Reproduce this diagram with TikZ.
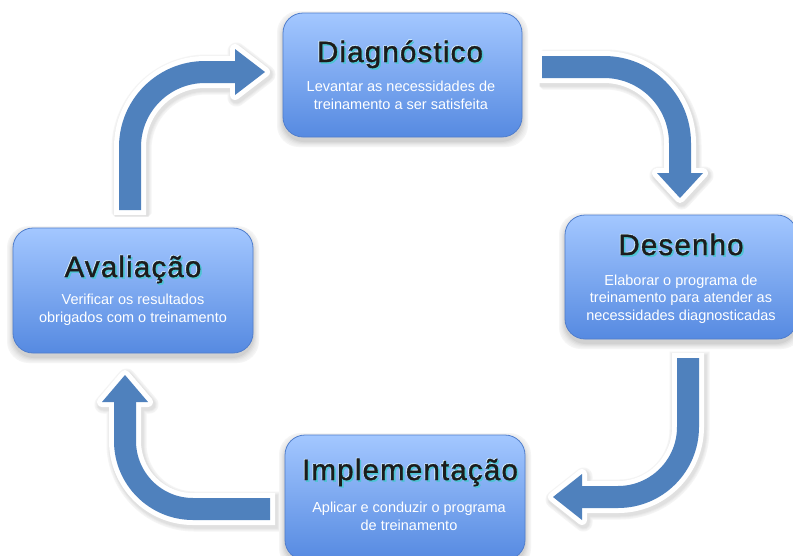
\documentclass[tikz,border=0pt]{standalone}
\usepackage{fontspec}
\setmainfont{Liberation Sans}
\newfontfamily\titlefont[FakeBold=1.2,LetterSpace=4]{Liberation Sans}
\definecolor{arrowblue}{RGB}{79,129,189}
\definecolor{boxtop}{RGB}{163,199,255}
\definecolor{boxbot}{RGB}{86,138,225}
\definecolor{boxline}{RGB}{80,126,205}
\definecolor{glowcyan}{RGB}{78,196,212}
\definecolor{titledark}{RGB}{28,28,28}
\tikzset{
  box/.style={rounded corners=20pt, top color=boxtop, bottom color=boxbot, draw=boxline, line width=0.8pt, inner sep=0pt},
  sub/.style={text=white, font=\fontsize{14.5}{17.5}\selectfont, align=center, anchor=base, inner sep=0pt},
  ttl/.style={font=\titlefont\fontsize{29.5}{31}\selectfont, anchor=base, text=titledark, inner sep=0pt},
  ttlglow/.style={ttl, text=glowcyan},
  ttlhalo/.style={ttl, text=white!85!cyan},
  halo/.style={draw=white, line width=32pt},
  shaft/.style={draw=arrowblue, line width=22pt},
  headhalo/.style={fill=white, draw=white, line width=10pt, line join=round},
  headfill/.style={fill=arrowblue},
}
% arrow paths (argument: extra length of the tail)
\newcommand\myApath[1]{(130,-210-#1) -- (130,-147) arc[start angle=180,end angle=90,radius=75] -- (236,-72)}
\newcommand\myAhead{(235,-49) -- (265,-72) -- (235,-95) -- cycle}
\newcommand\myBpath[1]{(542-#1,-67) -- (604,-67) arc[start angle=90,end angle=0,radius=76] -- (680,-174)}
\newcommand\myBhead{(657,-173) -- (680,-198) -- (703,-173) -- cycle}
\newcommand\myCpath[1]{(688,-358+#1) -- (688,-427) arc[start angle=0,end angle=-90,radius=70] -- (581,-497)}
\newcommand\myChead{(582,-474) -- (553,-497) -- (582,-520) -- cycle}
\newcommand\myDpath[1]{(270+#1,-509) -- (193,-509) arc[start angle=270,end angle=180,radius=68] -- (125,-401)}
\newcommand\myDhead{(102,-402) -- (125,-375) -- (148,-402) -- cycle}
\newcommand\myboxshadow[4]{%
  \foreach \s/\c in {6/4,5/6,4/8,3/11,2/14,1/18}{%
    \fill[black!\c, rounded corners=22pt] (#1-\s,#4-4-\s) rectangle (#3+\s,#2-4+\s);}}
\begin{document}
\begin{tikzpicture}[x=1pt,y=1pt]
\useasboundingbox (0,0) rectangle (793,-555);
\clip (0,0) rectangle (793,-555);
\fill[white] (0,0) rectangle (793,-555);

% arrow shadows
\begin{scope}[shift={(1.5,-2.5)}]
  \foreach \s/\c in {4/4,3/6,2/9,1/12}{%
    \draw[black!\c, line width=32pt+2pt*\s] \myApath{5+\s};
    \draw[black!\c, line width=32pt+2pt*\s] \myBpath{5+\s};
    \draw[black!\c, line width=32pt+2pt*\s] \myCpath{5+\s};
    \draw[black!\c, line width=32pt+2pt*\s] \myDpath{5+\s};
    \filldraw[black!\c, line width=10pt+2pt*\s, line join=round] \myAhead;
    \filldraw[black!\c, line width=10pt+2pt*\s, line join=round] \myBhead;
    \filldraw[black!\c, line width=10pt+2pt*\s, line join=round] \myChead;
    \filldraw[black!\c, line width=10pt+2pt*\s, line join=round] \myDhead;
  }
\end{scope}
% arrow halos
\draw[halo] \myApath{5}; \filldraw[headhalo] \myAhead;
\draw[halo] \myBpath{5}; \filldraw[headhalo] \myBhead;
\draw[halo] \myCpath{5}; \filldraw[headhalo] \myChead;
\draw[halo] \myDpath{5}; \filldraw[headhalo] \myDhead;
% arrow bodies
\draw[shaft] \myApath{0}; \fill[headfill] \myAhead;
\draw[shaft] \myBpath{0}; \fill[headfill] \myBhead;
\draw[shaft] \myCpath{0}; \fill[headfill] \myChead;
\draw[shaft] \myDpath{0}; \fill[headfill] \myDhead;

% box shadows
\myboxshadow{283}{-13}{522}{-137}
\myboxshadow{565}{-215}{797}{-339}
\myboxshadow{13}{-228}{253}{-353}
\myboxshadow{285}{-435}{525}{-560}

% boxes
\node[box, minimum width=239pt, minimum height=124pt] (diag) at (402.5,-75) {};
\node[box, minimum width=232pt, minimum height=124pt] (des) at (681,-277) {};
\node[box, minimum width=240pt, minimum height=125pt] (aval) at (133,-290.5) {};
\node[box, minimum width=240pt, minimum height=125pt] (impl) at (405,-497.5) {};

% titles
\node[ttlhalo] (diagh) at (399.3,-61.3) {Diagnóstico};
\node[ttlglow] (diagg) at (401.6,-63.6) {Diagnóstico};
\node[ttl] (diagt) at (400,-62) {Diagnóstico};
\node[ttlhalo] (desh) at (680.3,-254.3) {Desenho};
\node[ttlglow] (desg) at (682.6,-256.6) {Desenho};
\node[ttl] (dest) at (681,-255) {Desenho};
\node[ttlhalo] (avalh) at (132.3,-276.3) {Avaliação};
\node[ttlglow] (avalg) at (134.6,-278.6) {Avaliação};
\node[ttl] (avalt) at (133,-277) {Avaliação};
\node[ttlhalo] (implh) at (409.3,-479.3) {Implementação};
\node[ttlglow] (implg) at (411.6,-481.6) {Implementação};
\node[ttl] (implt) at (410,-480) {Implementação};

% subtitles (base anchor = last line)
\node[sub] (diags) at (401,-109) {Levantar as necessidades de\\treinamento a ser satisfeita};
\node[sub] (dess) at (681,-320) {Elaborar o programa de\\treinamento para atender as\\necessidades diagnosticadas};
\node[sub] (avals) at (133,-322) {Verificar os resultados\\obrigados com o treinamento};
\node[sub] (impls) at (409,-530) {Aplicar e conduzir o programa\\de treinamento};
\end{tikzpicture}
\end{document}
